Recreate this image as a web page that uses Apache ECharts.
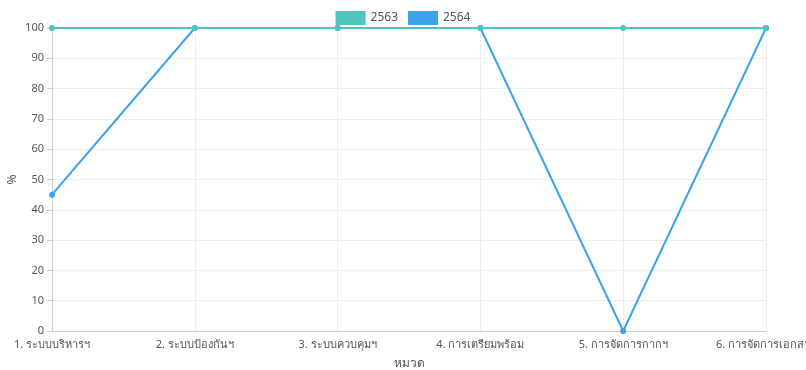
<!DOCTYPE html>
<html>
<head>
<meta charset="utf-8">
<script src="https://cdn.jsdelivr.net/npm/echarts@6/dist/echarts.min.js"></script>
<style>
  html, body { margin: 0; padding: 0; background: #fff; }
  #chart { width: 806px; height: 370px; }
</style>
</head>
<body>
<div id="chart"></div>
<script>
// Categories (หมวด) and percentage scores per year
const categories = [
  '1. ระบบบริหารฯ',
  '2. ระบบป้องกันฯ',
  '3. ระบบควบคุมฯ',
  '4. การเตรียมพร้อม',
  '5. การจัดการกากฯ',
  '6. การจัดการเอกสาร'
];
const yearNames = ['2563', '2564'];
const values2563 = [100, 100, 100, 100, 100, 100];
const values2564 = [45, 100, 100, 100, 0, 100];

const fontFamily = "'Noto Sans', 'DejaVu Sans', sans-serif";
const chart = echarts.init(document.getElementById('chart'));

chart.setOption({
  animation: false,
  textStyle: { fontFamily: fontFamily },
  color: ['#4fc3bf', '#3ba3ea'],
  legend: {
    top: 6,
    left: 'center',
    icon: 'rect',
    itemWidth: 30,
    itemHeight: 14,
    itemGap: 10,
    itemStyle: { borderWidth: 0 },
    lineStyle: { width: 0 },
    textStyle: { color: '#555', fontSize: 12, fontFamily: fontFamily },
    data: yearNames
  },
  grid: { left: 52, right: 40, top: 28, bottom: 39, containLabel: false, outerBoundsMode: 'none' },
  xAxis: {
    type: 'category',
    data: categories,
    boundaryGap: false,
    name: 'หมวด',
    nameLocation: 'middle',
    nameGap: 27,
    nameTextStyle: { color: '#555', fontSize: 12 },
    axisLine: { lineStyle: { color: '#ccc' } },
    axisTick: { show: false },
    axisLabel: { color: '#555', fontSize: 11, interval: 0, margin: 8, hideOverlap: false },
    splitLine: { show: true, lineStyle: { color: '#eee' } }
  },
  yAxis: {
    type: 'value',
    min: 0,
    max: 100,
    interval: 10,
    name: '%',
    nameLocation: 'middle',
    nameGap: 33,
    nameMoveOverlap: false,
    nameTextStyle: { color: '#555', fontSize: 12 },
    axisLine: { show: true, lineStyle: { color: '#ccc' } },
    axisTick: { show: true, lineStyle: { color: '#ccc' } },
    axisLabel: { color: '#555', fontSize: 11 },
    splitLine: { lineStyle: { color: '#eee' } }
  },
  series: [
    {
      name: yearNames[0],
      type: 'line',
      data: values2563,
      z: 3,
      symbol: 'circle',
      symbolSize: 6,
      lineStyle: { width: 2 }
    },
    {
      name: yearNames[1],
      type: 'line',
      data: values2564,
      z: 2,
      symbol: 'circle',
      symbolSize: 6,
      lineStyle: { width: 2 }
    }
  ]
});
</script>
</body>
</html>
